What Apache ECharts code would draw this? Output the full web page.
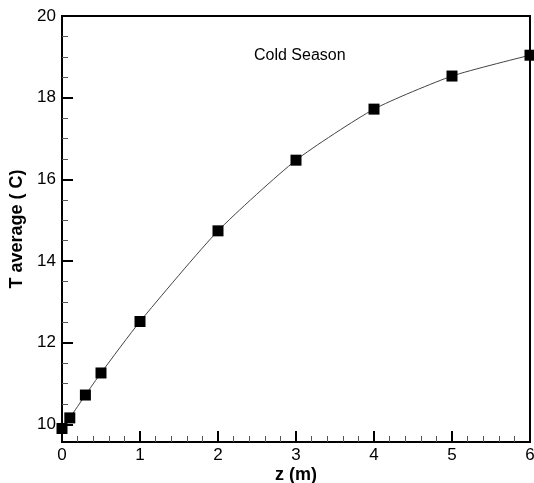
<!DOCTYPE html>
<html>
<head>
<meta charset="utf-8">
<script src="https://cdn.jsdelivr.net/npm/echarts@6/dist/echarts.min.js"></script>
<style>
  html, body { margin: 0; padding: 0; background: #fff; }
  #container { width: 534px; height: 483px; }
</style>
</head>
<body>
<div id="container"></div>
<script>
    // 数据
    var zValues = [0, 0.1, 0.3, 0.5, 1, 2, 3, 4, 5, 6];
    var tAverage = [9.9, 10.16, 10.72, 11.26, 12.52, 14.74, 16.47, 17.72, 18.53, 19.04];
    var yMajorTicks = [10, 12, 14, 16, 18, 20];
    var yMinorTicks = [10.5, 11, 11.5, 12.5, 13, 13.5, 14.5, 15, 15.5, 16.5, 17, 17.5, 18.5, 19, 19.5];
    var yMin = 9.57, yMax = 20;

    var points = zValues.map(function (z, i) { return [z, tAverage[i]]; });
    var font = 'Liberation Sans, Arial, sans-serif';

    var option = {
        animation: false,
        backgroundColor: '#fff',
        grid: { left: 62, right: 4, top: 16, bottom: 41, outerBoundsMode: 'none', containLabel: false,
                show: true, borderColor: '#000', borderWidth: 2 },
        title: {
            text: 'Cold Season',
            left: 249, top: 43,
            textStyle: { fontFamily: font, fontSize: 16, fontWeight: 'normal', color: '#000' }
        },
        xAxis: {
            type: 'value', min: 0, max: 6, interval: 1,
            name: 'z (m)', nameLocation: 'middle', nameGap: 24, nameMoveOverlap: false,
            nameTextStyle: { fontFamily: font, fontSize: 18, fontWeight: 'bold', color: '#000' },
            axisLine: { lineStyle: { color: '#000', width: 2 } },
            axisTick: { inside: true, length: 11, lineStyle: { color: '#000', width: 2 } },
            minorTick: { show: true, splitNumber: 5, length: 6, lineStyle: { color: '#555', width: 1 } },
            axisLabel: { fontFamily: font, fontSize: 17, color: '#000', margin: 5 },
            splitLine: { show: false }
        },
        yAxis: [{
            type: 'value', min: yMin, max: yMax,
            name: 'T average ( C)', nameLocation: 'middle', nameGap: 30,
            nameTextStyle: { fontFamily: font, fontSize: 18, fontWeight: 'bold', color: '#000' },
            axisLine: { lineStyle: { color: '#000', width: 2 } },
            axisTick: { inside: true, length: 11, customValues: yMajorTicks, lineStyle: { color: '#000', width: 2 } },
            axisLabel: { fontFamily: font, fontSize: 17, color: '#000', margin: 6, customValues: yMajorTicks },
            splitLine: { show: false }
        }, {
            type: 'value', min: yMin, max: yMax, position: 'left',
            axisLine: { show: false },
            axisTick: { inside: true, length: 6, customValues: yMinorTicks, lineStyle: { color: '#555', width: 1 } },
            axisLabel: { show: false },
            splitLine: { show: false }
        }],
        series: [{
            type: 'line',
            data: points,
            smooth: 0.2,
            clip: false,
            symbol: 'rect',
            symbolSize: 11,
            itemStyle: { color: '#000' },
            lineStyle: { color: '#444', width: 1 }
        }]
    };
    var myChart = echarts.init(document.getElementById('container'));
    myChart.setOption(option);
</script>
</body>
</html>
